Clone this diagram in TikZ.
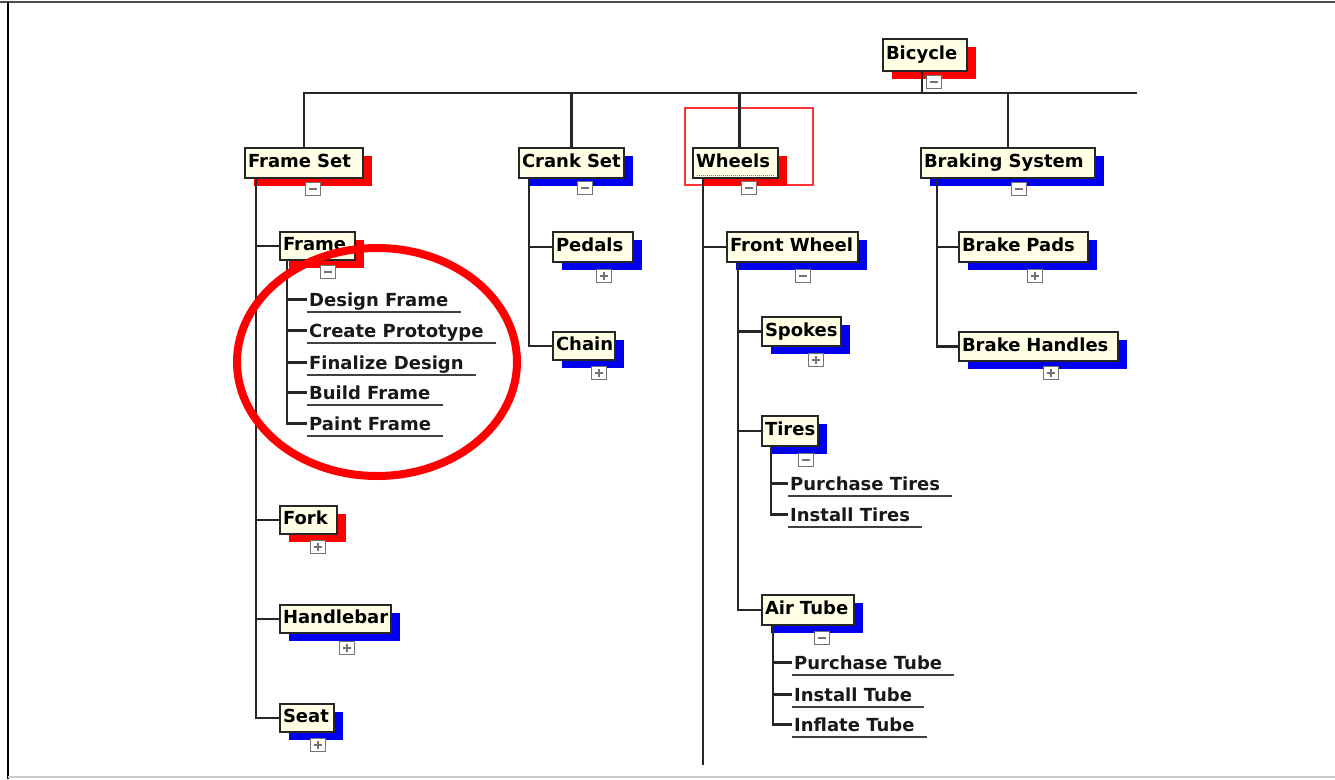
\documentclass[tikz,border=0pt]{standalone}
\usepackage{fontspec}
\setmainfont{DejaVu Sans}
\usetikzlibrary{shadows}
\definecolor{boxfill}{HTML}{FFFFE6}
\definecolor{shadred}{HTML}{FF0000}
\definecolor{shadblue}{HTML}{0000EE}
\newcommand{\wbsfont}{\fontsize{18}{20}\selectfont\bfseries}
\tikzset{
  wbs/.style={draw=black!85, line width=2pt, fill=boxfill, anchor=north west,
    inner xsep=3pt, inner ysep=0pt, align=left, font=\wbsfont,
    text height=13pt, text depth=4pt, minimum height=30pt},
  redshadow/.style={general shadow={fill=shadred, shadow xshift=9pt, shadow yshift=-8pt}},
  blueshadow/.style={general shadow={fill=shadblue, shadow xshift=9pt, shadow yshift=-8pt}},
  task/.style={anchor=base west, inner xsep=2pt, inner ysep=0pt, font=\wbsfont,
    text=black!90, text height=19pt, text depth=6pt},
  uline/.style={line width=2pt, black!75},
  conn/.style={line width=2.2pt, black!85},
  tgl/.style={draw=black!55, line width=1pt, fill=white, minimum width=15pt,
    minimum height=13pt, inner sep=0pt},
  minusbox/.style={tgl, path picture={\draw[line width=1.8pt]
    ([xshift=-4pt]path picture bounding box.center) -- ([xshift=4pt]path picture bounding box.center);}},
  plusbox/.style={tgl, path picture={\draw[line width=1.8pt]
    ([xshift=-4pt]path picture bounding box.center) -- ([xshift=4pt]path picture bounding box.center)
    ([yshift=-4pt]path picture bounding box.center) -- ([yshift=4pt]path picture bounding box.center);}},
  selbox/.style={draw=red!80, line width=1.2pt},
  ring/.style={draw=red, line width=8pt},
}
\begin{document}
\begin{tikzpicture}[x=1pt, y=-1pt]
\useasboundingbox (0,0) rectangle (1335,779);
\fill[white] (0,0) rectangle (1335,779);

% window frame
\draw[black!70, line width=1.8pt] (0,2) -- (1335,2);
\draw[black, line width=2pt] (8,2) -- (8,779);
\draw[black!20, line width=1.5pt] (8,777) -- (1335,777);

% selection marker around the Wheels element
\draw[selbox] (685,108) rectangle (813,185);

% work breakdown elements
\node[wbs, redshadow, text width=78pt, minimum height=32pt] (bicycle) at (882,38) {Bicycle};
\node[wbs, redshadow, text width=112pt] (frameset) at (244,147) {Frame Set};
\node[wbs, blueshadow, text width=99pt] (crankset) at (518,147) {Crank Set};
\node[wbs, redshadow, text width=79pt] (wheels) at (692,147) {Wheels};
\node[wbs, blueshadow, text width=168pt] (braking) at (920,147) {Braking System};

\node[wbs, redshadow, text width=69pt, minimum height=28pt] (frame) at (279,231) {Frame};
\node[wbs, redshadow, text width=51pt, minimum height=28pt] (fork) at (279,505) {Fork};
\node[wbs, blueshadow, text width=105pt, minimum height=28pt] (handlebar) at (279,604) {Handlebar};
\node[wbs, blueshadow, text width=48pt, minimum height=28pt] (seat) at (279,703) {Seat};

\node[wbs, blueshadow, text width=74pt] (pedals) at (552,231) {Pedals};
\node[wbs, blueshadow, text width=56pt, minimum height=28pt] (chain) at (552,331) {Chain};

\node[wbs, blueshadow, text width=125pt] (frontwheel) at (726,231) {Front Wheel};
\node[wbs, blueshadow, text width=73pt, minimum height=29pt] (spokes) at (761,316) {Spokes};
\node[wbs, blueshadow, text width=50pt] (tires) at (761,415) {Tires};
\node[wbs, blueshadow, text width=86pt] (airtube) at (761,594) {Air Tube};

\node[wbs, blueshadow, text width=123pt] (brakepads) at (958,231) {Brake Pads};
\node[wbs, blueshadow, text width=153pt, minimum height=29pt] (brakehandles) at (958,331) {Brake Handles};

% focus line inside the selected element
\draw[red!70, densely dotted, line width=1pt] ([shift={(5pt,4pt)}]wheels.south west) -- ([shift={(-5pt,4pt)}]wheels.south east);

% tasks
\node[task] (t-df) at (307,306) {Design Frame};
\node[task] (t-cp) at (307,337) {Create Prototype};
\node[task] (t-fd) at (307,369) {Finalize Design};
\node[task] (t-bf) at (307,399) {Build Frame};
\node[task] (t-pf) at (307,430) {Paint Frame};

\node[task] (t-pt) at (788,490) {Purchase Tires};
\node[task] (t-it) at (788,521) {Install Tires};

\node[task] (t-pu) at (792,669) {Purchase Tube};
\node[task] (t-iu) at (792,701) {Install Tube};
\node[task] (t-fu) at (792,731) {Inflate Tube};

\foreach \t in {t-df,t-cp,t-fd,t-bf,t-pf,t-pt,t-it,t-pu,t-iu,t-fu}
  \draw[uline] (\t.south west) -- ([xshift=10pt]\t.south east);

% connectors: top level
\coordinate (busend) at (1137,93);
\draw[conn] ([xshift=-3pt]bicycle.south) -- ([xshift=-3pt]bicycle.south |- busend);
\draw[conn] (frameset.north) |- (busend);
\draw[conn] (crankset.north) -- (crankset.north |- busend);
\draw[conn] ([xshift=4pt]wheels.north) -- ([xshift=4pt]wheels.north |- busend);
\draw[conn] (braking.north) -- (braking.north |- busend);

% connectors: second level
\foreach \c in {frame,fork,handlebar,seat}
  \draw[conn] ([xshift=12pt]frameset.south west) |- (\c.west);
\foreach \c in {pedals,chain}
  \draw[conn] ([xshift=11pt]crankset.south west) |- (\c.west);
\coordinate (wheelsend) at (703,765);
\draw[conn] ([xshift=11pt]wheels.south west) -- (wheelsend);
\draw[conn] ([xshift=11pt]wheels.south west) |- (frontwheel.west);
\foreach \c in {brakepads,brakehandles}
  \draw[conn] ([xshift=17pt]braking.south west) |- (\c.west);

% connectors: lower levels
\foreach \c in {t-df,t-cp,t-fd,t-bf,t-pf}
  \draw[conn] ([xshift=8pt]frame.south west) |- (\c.west);
\foreach \c in {spokes,tires,airtube}
  \draw[conn] ([xshift=12pt]frontwheel.south west) |- (\c.west);
\foreach \c in {t-pt,t-it}
  \draw[conn] ([xshift=10pt]tires.south west) |- (\c.west);
\foreach \c in {t-pu,t-iu,t-fu}
  \draw[conn] ([xshift=12pt]airtube.south west) |- (\c.west);

% expand / collapse buttons
\node[minusbox] (tg-bicycle) at (934,82) {};
\node[minusbox] (tg-frameset) at (313,189) {};
\node[minusbox] (tg-crankset) at (585,188) {};
\node[minusbox] (tg-wheels) at (749,188) {};
\node[minusbox] (tg-braking) at (1019,189) {};
\node[minusbox] (tg-frame) at (328,272) {};
\node[plusbox] (tg-fork) at (318,547) {};
\node[plusbox] (tg-handlebar) at (347,648) {};
\node[plusbox] (tg-seat) at (318,745) {};
\node[plusbox] (tg-pedals) at (604,276) {};
\node[plusbox] (tg-chain) at (599,373) {};
\node[minusbox] (tg-frontwheel) at (803,276) {};
\node[plusbox] (tg-spokes) at (816,360) {};
\node[minusbox] (tg-tires) at (806,460) {};
\node[minusbox] (tg-airtube) at (822,638) {};
\node[plusbox] (tg-brakepads) at (1035,276) {};
\node[plusbox] (tg-brakehandles) at (1051,373) {};

% highlight ring around the frame tasks
\draw[ring] (377,362) ellipse [x radius=140, y radius=114];
\end{tikzpicture}
\end{document}
